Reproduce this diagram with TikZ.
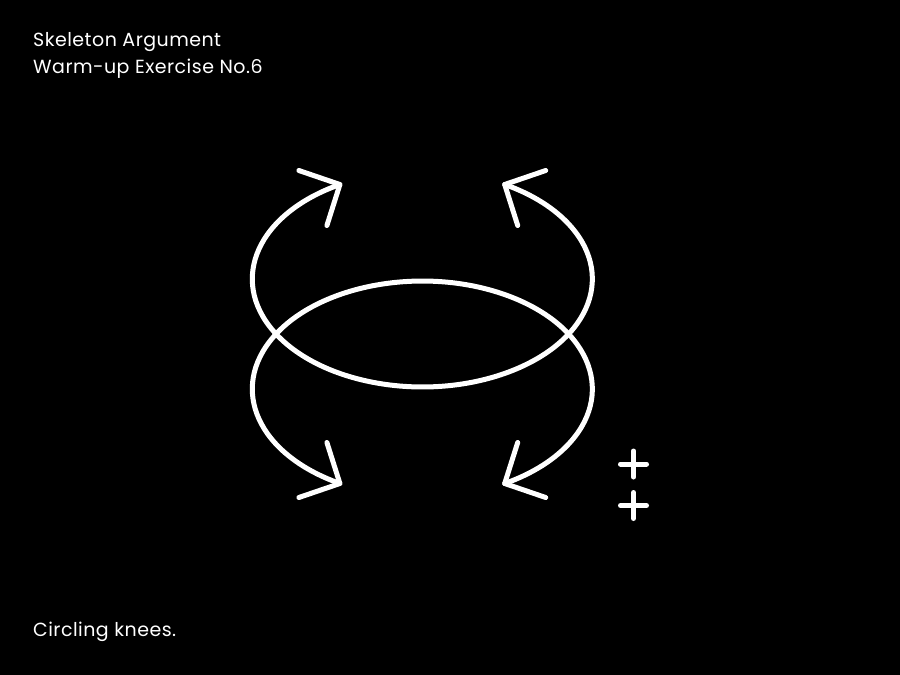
\documentclass[tikz,border=0pt]{standalone}
\usepackage{fontspec}
\setmainfont{Poppins}[LetterSpace=2.5]
\begin{document}
\begin{tikzpicture}[x=1pt,y=-1pt,
  stroke/.style={draw=white,line width=5pt,line cap=round,line join=round},
  label/.style={text=white,anchor=base west,inner sep=0pt,font=\fontsize{19}{24}\selectfont}]
\fill[black] (0,0) rectangle (900,675);
\useasboundingbox (0,0) rectangle (900,675);
% tips
\coordinate (ul) at (339.9,184.5);
\coordinate (ur) at (504.7,184.5);
\coordinate (ll) at (339.9,483.5);
\coordinate (lr) at (504.7,483.5);
% upper ellipse (open at top)
\draw[stroke] (ul) arc[start angle=241,end angle=-61,x radius=170,y radius=108];
% lower ellipse (open at bottom)
\draw[stroke] (ll) arc[start angle=119,end angle=421,x radius=170,y radius=108];
% arrowheads
\draw[stroke] (ul) ++(-41,-14) -- (ul) -- ++(-13,41);
\draw[stroke] (ur) ++(41,-14) -- (ur) -- ++(13,41);
\draw[stroke] (ll) ++(-41,14) -- (ll) -- ++(-13,-41);
\draw[stroke] (lr) ++(41,14) -- (lr) -- ++(13,-41);
% plus signs
\coordinate (p1) at (633.5,464);
\coordinate (p2) at (633.5,505.5);
\draw[stroke] (p1) ++(-13,0) -- ++(26,0) (p1) ++(0,-13) -- ++(0,26);
\draw[stroke] (p2) ++(-13,0) -- ++(26,0) (p2) ++(0,-13) -- ++(0,26);
% texts
\node[label] (t1) at (33,46.7) {Skeleton Argument};
\node[label] (t2) at (33,73.3) {Warm-up Exercise No.6};
\node[label] (t3) at (33,636) {Circling knees.};
\end{tikzpicture}
\end{document}
